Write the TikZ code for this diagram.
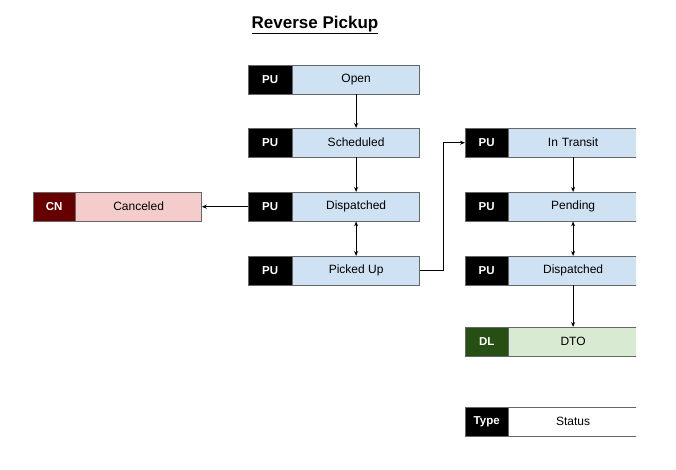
\documentclass[tikz,border=0pt]{standalone}
\usepackage{fontspec}
\setmainfont{Liberation Sans}
\usetikzlibrary{arrows.meta}
\definecolor{edge}{HTML}{666666}
\definecolor{pulight}{HTML}{CFE2F3}
\definecolor{cndark}{HTML}{660000}
\definecolor{cnlight}{HTML}{F4CCCC}
\definecolor{dldark}{HTML}{274E13}
\definecolor{dllight}{HTML}{D9EAD3}

\begin{document}
\begin{tikzpicture}[x=1pt, y=-1pt,
    typebox/.style={draw=edge, fill=black, text=white, font=\bfseries\fontsize{11.5}{13}\selectfont,
        minimum width=44pt, minimum height=29pt, inner sep=0pt, anchor=north west},
    statebox/.style={draw=edge, fill=pulight, font=\fontsize{12}{14}\selectfont,
        minimum width=127pt, minimum height=29pt, inner sep=0pt, anchor=west},
    flow/.style={line width=0.8pt, -{Stealth[length=5pt,width=4pt]}},
    twoway/.style={line width=0.8pt, {Stealth[length=5pt,width=4pt]}-{Stealth[length=5pt,width=4pt]}}]
                \useasboundingbox (0,0) rectangle (676,469);
                \fill[white] (0,0) rectangle (676,469);
                \node[font=\bfseries\fontsize{17}{20}\selectfont] (title) at (315,25) {\underline{Reverse Pickup}};
                \begin{scope}
                \clip (0,0) rectangle (636,469);
                \node[typebox] (puopen) at (248,65) {PU};
                \node[statebox] (open) at (puopen.east) {Open};
                \node[typebox] (pusched) at (248,128) {PU};
                \node[statebox] (sched) at (pusched.east) {Scheduled};
                \node[typebox] (pudisp) at (248,192) {PU};
                \node[statebox] (disp) at (pudisp.east) {Dispatched};
                \node[typebox] (pupick) at (248,256) {PU};
                \node[statebox] (pick) at (pupick.east) {Picked Up};
                \node[typebox, fill=cndark, minimum width=42pt] (cn) at (33,192) {CN};
                \node[statebox, fill=cnlight, minimum width=126pt] (canc) at (cn.east) {Canceled};
                \node[typebox, minimum width=43pt] (putrans) at (465,128) {PU};
                \node[statebox, minimum width=129pt, text width=128pt, align=center] (trans) at (putrans.east) {In Transit};
                \node[typebox, minimum width=43pt] (pupend) at (465,192) {PU};
                \node[statebox, minimum width=129pt, text width=128pt, align=center] (pend) at (pupend.east) {Pending};
                \node[typebox, minimum width=43pt] (pudisptwo) at (465,256) {PU};
                \node[statebox, minimum width=129pt, text width=128pt, align=center] (disptwo) at (pudisptwo.east) {Dispatched};
                \node[typebox, fill=dldark, minimum width=43pt] (dl) at (465,327) {DL};
                \node[statebox, fill=dllight, minimum width=129pt, text width=128pt, align=center] (dto) at (dl.east) {DTO};
                \node[typebox, minimum width=43pt] (type) at (465,407) {Type};
                \node[statebox, fill=white, minimum width=129pt, text width=128pt, align=center] (status) at (type.east) {Status};
                \draw[flow] (open) -- (sched);
                \draw[flow] (sched) -- (disp);
                \draw[twoway] (disp) -- (pick);
                \draw[flow] (pudisp) -- (canc);
                \draw[flow] (pick.east) -- ++(24,0) |- (putrans.west);
                \draw[flow] (trans) -- (pend);
                \draw[twoway] (pend) -- (disptwo);
                \draw[flow] (disptwo) -- (dto);
                \end{scope}
            \end{tikzpicture}
\end{document}
